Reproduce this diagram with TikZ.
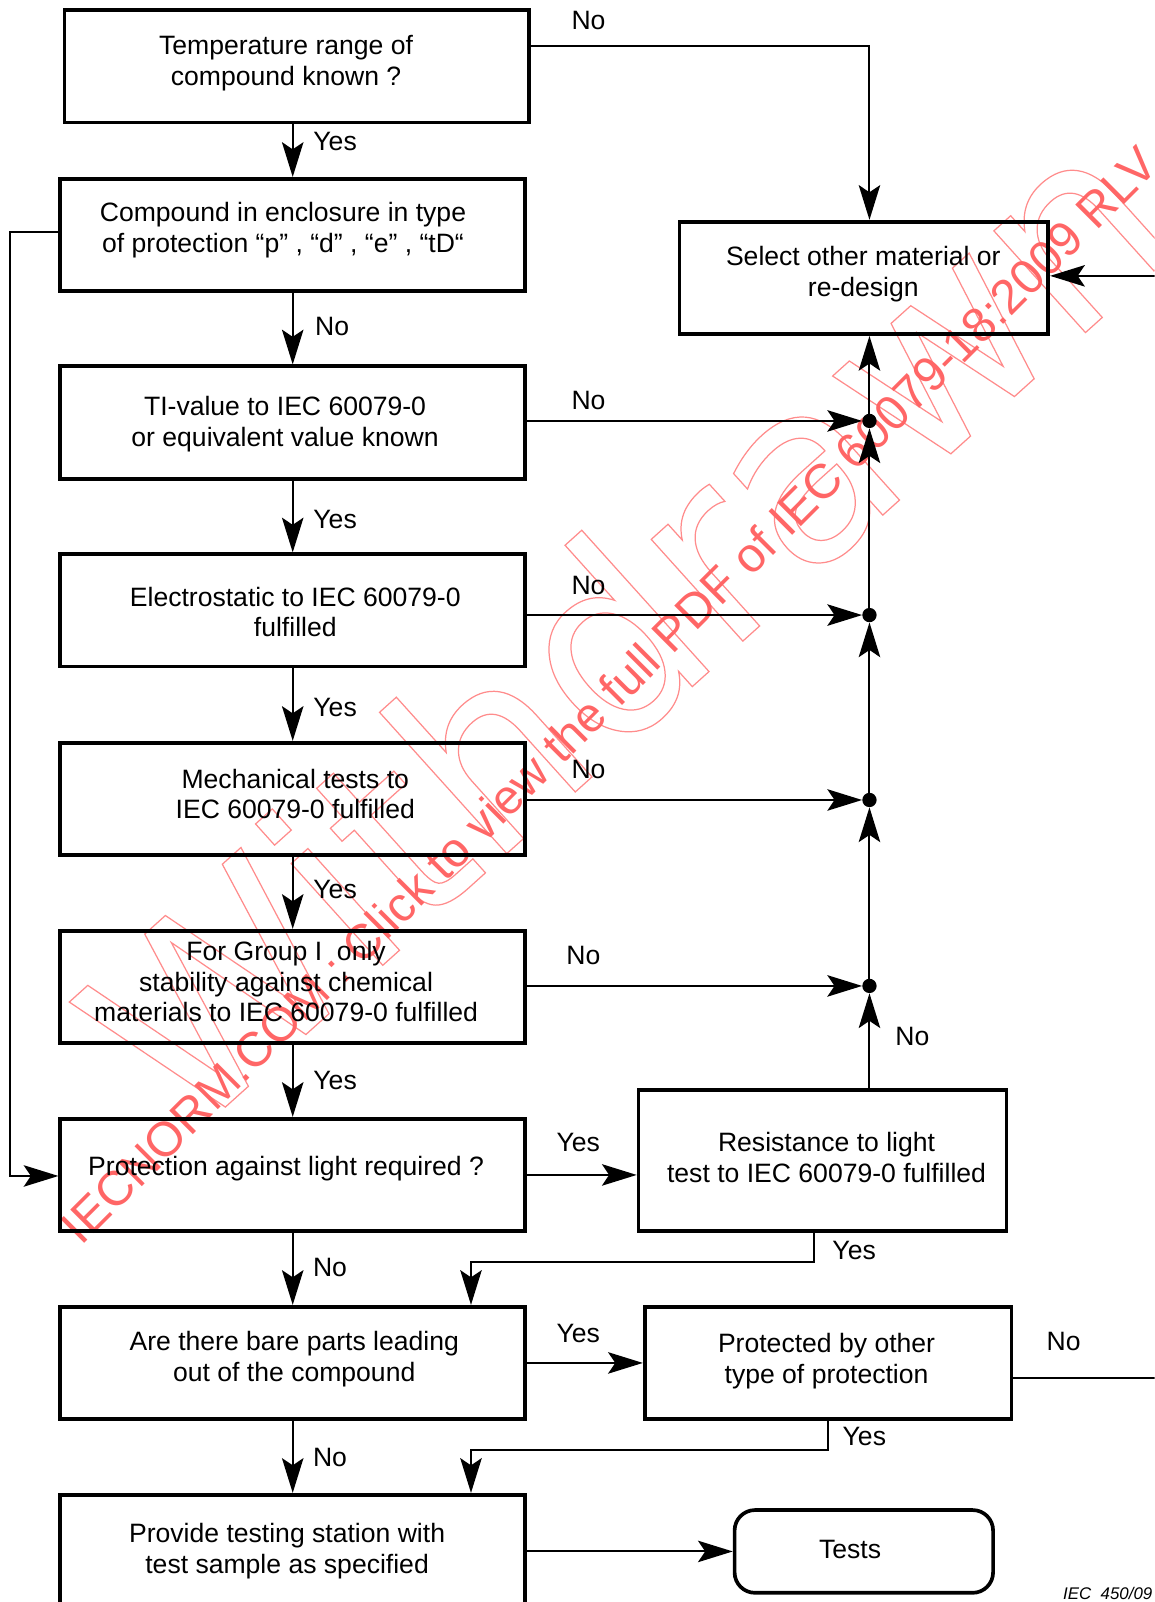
\documentclass[tikz,border=0pt]{standalone}
\usepackage{fontspec}
\setmainfont{Liberation Sans}
\newfontfamily\wdfont{DejaVu Sans}
\usetikzlibrary{arrows.meta,calc}
\begin{document}
\begin{tikzpicture}[x=1pt,y=-1pt,
  flowbox/.style={draw, line width=3.6pt, inner sep=0pt, minimum width=455pt, minimum height=110pt},
  txt/.style={font=\fontsize{26}{30}\selectfont, align=center, inner sep=0pt},
  lbl/.style={font=\fontsize{26}{30}\selectfont, inner sep=0pt},
  conn/.style={line width=2pt, -{Stealth[length=34pt,width=21pt,inset=7pt]}},
  plain/.style={line width=2pt},
  dot/.style={circle, fill, inner sep=0pt, minimum size=14pt},
  wm/.style={text=red!60, font=\fontsize{47.5}{50}\selectfont, inner sep=0pt},
  wmout/.style={text=red!45, font=\wdfont\fontsize{245}{245}\selectfont, inner sep=0pt}]
\clip (0,0) rectangle (1130,1568);
\fill[white] (0,0) rectangle (1130,1568);
% watermarks
\node[wmout, rotate=42] (wdr) at (610,610) {\special{pdf:literal direct 1 Tr 1.2 w}Withdrawn\special{pdf:literal direct 0 Tr}};
\node[wm, rotate=45, anchor=base west] (wmk) at (80,1220) {IECNORM.COM : Click to view the full PDF of IEC 60079-18:2009 RLV};
% boxes
\node[flowbox] (b1) at (290.5,65) {};
\node[flowbox] (b2) at (286.5,230) {};
\node[flowbox] (b3) at (286.5,413.5) {};
\node[flowbox] (b4) at (286.5,597.5) {};
\node[flowbox] (b5) at (286.5,782) {};
\node[flowbox] (b6) at (286.5,966) {};
\node[flowbox] (b7) at (286.5,1150) {};
\node[flowbox] (b8) at (286.5,1334) {};
\node[flowbox] (b9) at (286.5,1518) {};
\node[flowbox, minimum width=361pt] (sel) at (845.5,272) {};
\node[flowbox, minimum width=360pt, minimum height=138pt] (res) at (805,1136) {};
\node[flowbox, minimum width=359pt] (prot) at (810.5,1334) {};
\node[flowbox, minimum width=253pt, minimum height=81pt, rounded corners=20pt] (tests) at (845.5,1518.5) {};
% box texts
\node[txt] (t1) at (280,62) {Temperature range of\\compound known ?};
\node[txt] (t2) at (277,225) {Compound in enclosure in type\\of protection “p” , “d” , “e” , “tD“};
\node[txt] (t3) at (279,415) {TI-value to IEC 60079-0\\or equivalent value known};
\node[txt] (t4) at (289,599) {Electrostatic to IEC 60079-0\\fulfilled};
\node[txt] (t5) at (289,777) {Mechanical tests to\\IEC 60079-0 fulfilled};
\node[txt] (t6) at (280,961) {For Group I\ \ only\\stability against chemical\\materials to IEC 60079-0 fulfilled};
\node[txt] (t7) at (280,1144) {Protection against light required ?};
\node[txt] (t8) at (288,1330) {Are there bare parts leading\\out of the compound};
\node[txt] (t9) at (281,1518) {Provide testing station with\\test sample as specified};
\node[txt] (ts) at (845,268) {Select other material or\\re-design};
\node[txt] (tr) at (809,1133) {Resistance to light\\test to IEC 60079-0 fulfilled};
\node[txt] (tp) at (809,1332) {Protected by other\\type of protection};
\node[txt] (tt) at (832,1517) {Tests};
% junction dots
\node[dot] (d1) at (851,412) {};
\node[dot] (d2) at (851,602) {};
\node[dot] (d3) at (851,783) {};
\node[dot] (d4) at (851,965) {};
% helper coordinates
\coordinate (c1) at (851,45);
\coordinate (l1) at (10,227);
\coordinate (l2) at (10,1151);
\coordinate (r1) at (797,1235);
\coordinate (r2) at (461,1235);
\coordinate (p1) at (810,1419);
\coordinate (p2) at (461,1419);
\coordinate (e1) at (1130,1349);
\coordinate (e2) at (1130,270);
% main column
\draw[conn] (b2.north |- b1.south) -- (b2.north);
\draw[conn] (b2.south) -- (b3.north);
\draw[conn] (b3.south) -- (b4.north);
\draw[conn] (b4.south) -- (b5.north);
\draw[conn] (b5.south) -- (b6.north);
\draw[conn] (b6.south) -- (b7.north);
\draw[conn] (b7.south) -- (b8.north);
\draw[conn] (b8.south) -- (b9.north);
% No branches to the right
\draw[conn] (b1.east |- c1) -- (c1) -- (c1 |- sel.north);
\draw[conn] (b3.east |- d1) -- (d1);
\draw[conn] (b4.east |- d2) -- (d2);
\draw[conn] (b5.east |- d3) -- (d3);
\draw[conn] (b6.east |- d4) -- (d4);
\draw[conn] (res.north -| d4) -- (d4);
\draw[conn] (d4) -- (d3);
\draw[conn] (d3) -- (d2);
\draw[conn] (d2) -- (d1);
\draw[conn] (d1) -- (d1 |- sel.south);
\draw[conn] (e2) -- (e2 -| sel.east);
% left loop
\draw[conn] (b2.west |- l1) -- (l1) -- (l2) -- (b7.west |- l2);
% lower part
\draw[conn] (b7.east) -- (b7.east -| res.west);
\draw[conn] (res.south -| r1) -- (r1) -- (r2) -- (r2 |- b8.north);
\draw[conn] (b8.east) -- (b8.east -| prot.west);
\draw[conn] (prot.south -| p1) -- (p1) -- (p2) -- (p2 |- b9.north);
\draw[plain] (prot.east |- e1) -- (e1);
\draw[conn] (b9.east |- tests.west) -- (tests.west);
% labels
\node[lbl] (n1) at (576,20) {No};
\node[lbl] (y1) at (328,138) {Yes};
\node[lbl] (n2) at (325,320) {No};
\node[lbl] (n3) at (576,392) {No};
\node[lbl] (y2) at (328,508) {Yes};
\node[lbl] (n4) at (576,573) {No};
\node[lbl] (y3) at (328,692) {Yes};
\node[lbl] (n5) at (576,753) {No};
\node[lbl] (y4) at (328,871) {Yes};
\node[lbl] (n6) at (571,935) {No};
\node[lbl] (y5) at (328,1058) {Yes};
\node[lbl] (n7) at (893,1014) {No};
\node[lbl] (y6) at (566,1118) {Yes};
\node[lbl] (n8) at (323,1241) {No};
\node[lbl] (y7) at (836,1224) {Yes};
\node[lbl] (y8) at (566,1305) {Yes};
\node[lbl] (n9) at (1041,1313) {No};
\node[lbl] (n10) at (323,1427) {No};
\node[lbl] (y9) at (846,1406) {Yes};
\node[font=\itshape\fontsize{16.5}{18}\selectfont, anchor=base east, inner sep=0pt] (iec) at (1128,1566) {IEC\ \ 450/09};
\end{tikzpicture}
\end{document}
